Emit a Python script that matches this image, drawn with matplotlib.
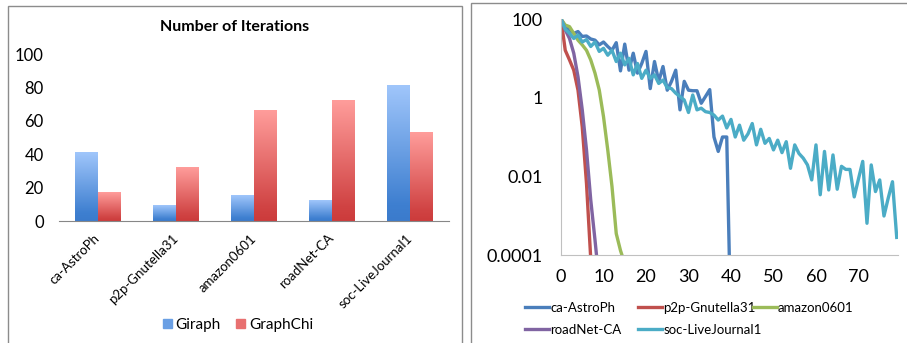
import numpy as np
import matplotlib.pyplot as plt
from matplotlib.colors import LinearSegmentedColormap
from matplotlib.patches import Rectangle, Patch

plt.rcParams['font.family'] = ['Lato', 'DejaVu Sans']

# left chart: number of iterations per dataset
datasets = ['ca-AstroPh', 'p2p-Gnutella31', 'amazon0601', 'roadNet-CA', 'soc-LiveJournal1']
giraph = [41, 9, 15, 12, 81]
graphchi = [17, 32, 66, 72, 53]

# right chart: per-iteration values (log scale), one list per dataset
ca_astroph = [100, 64, 53, 43, 48, 36, 37, 31, 29, 22,
              26, 20, 16, 25, 4.8, 23, 5.0, 13.5, 4.2, 7.4,
              15, 1.7, 8.3, 2.6, 6.2, 1.55, 2.6, 5.0, 0.49, 2.6,
              1.55, 1.5, 1.5, 0.72, 1.07, 1.6, 0.10, 0.043, 0.10, 0.10,
              0.000001]
p2p_gnutella31 = [100, 16, 9.1, 5.0, 1.55, 0.18, 0.0066, 0.00008]
amazon0601 = [100, 70, 64, 43, 29, 22, 16, 9.1, 4.2, 1.57,
              0.33, 0.047, 0.0055, 0.00035, 0.00013, 0.00006]
roadnet_ca = [100, 53, 32, 13.5, 3.4, 0.49, 0.047, 0.0025, 0.00024, 0.00002]
soc_livejournal1 = [100, 55, 43, 32, 39, 26, 30, 20, 26, 15,
                    18, 12, 16, 8.3, 13.5, 6.8, 10, 3.8, 7.4, 3.1,
                    5.0, 3.1, 3.8, 2.3, 2.8, 1.8, 1.7, 1.3, 1.07, 0.87,
                    0.42, 1.17, 0.49, 0.54, 0.44, 0.42, 0.36, 0.27, 0.34, 0.17,
                    0.28, 0.10, 0.20, 0.083, 0.12, 0.22, 0.063, 0.157, 0.069, 0.092,
                    0.047, 0.083, 0.040, 0.076, 0.016, 0.063, 0.038, 0.029, 0.0195, 0.0081,
                    0.063, 0.0034, 0.043, 0.0045, 0.035, 0.0047, 0.018, 0.015, 0.015, 0.0030,
                    0.0086, 0.024, 0.00064, 0.0195, 0.0041, 0.0081, 0.00098, 0.0028, 0.0073, 0.00028]

W, H = 907, 343


def px(x0, y0, x1, y1):
    # pixel box (top-left origin) -> figure rect
    return [x0 / W, 1 - y1 / H, (x1 - x0) / W, (y1 - y0) / H]


fig = plt.figure(figsize=(W / 100, H / 100), dpi=100)

# panel frames
for x0, y0, x1 in [(8, 6, 462), (471, 3, 930)]:
    fig.add_artist(Rectangle((x0 / W, -0.1), (x1 - x0) / W, 1 - y0 / H + 0.1,
                             transform=fig.transFigure, fill=False,
                             ec='#8c8c8c', lw=1))

# ---- left: bar chart ----
ax1 = fig.add_axes(px(59, 54.3, 449, 221))
x = np.arange(len(datasets))
w = 0.29
bars_g = ax1.bar(x - w / 2, giraph, w, color='none')
bars_c = ax1.bar(x + w / 2, graphchi, w, color='none')

grad = np.linspace(0, 1, 256).reshape(-1, 1)
cm_blue = LinearSegmentedColormap.from_list(
    'blue', [(0, '#3b7bcc'), (0.12, '#3e7fd0'), (1, '#a0c6fb')])
cm_red = LinearSegmentedColormap.from_list(
    'red', [(0, '#cc3b3b'), (0.12, '#d04343'), (1, '#ff9d9b')])
for bars, cm in [(bars_g, cm_blue), (bars_c, cm_red)]:
    for b in bars:
        ax1.imshow(grad, cmap=cm, origin='lower', aspect='auto', zorder=2,
                   extent=[b.get_x(), b.get_x() + b.get_width(), 0, b.get_height()])

ax1.set_xlim(-0.5, len(datasets) - 0.5)
ax1.set_ylim(0, 100)
ax1.set_yticks(range(0, 101, 20))
ax1.set_xticks(x)
ax1.set_xticklabels(datasets, rotation=45, ha='right', va='center',
                    rotation_mode='anchor', fontsize=9.5)
ax1.tick_params(axis='y', length=0, pad=11, labelsize=12)
ax1.tick_params(axis='x', length=0, pad=11)
for s in ['top', 'right', 'left']:
    ax1.spines[s].set_visible(False)
ax1.spines['bottom'].set_color('#878787')

fig.text(235 / W, 1 - 27 / H, 'Number of Iterations', ha='center', va='center',
         fontsize=11.5, weight='bold')
fig.legend(handles=[Patch(color='#6a9fe4'), Patch(color='#e87070')],
           labels=['Giraph', 'GraphChi'], loc='center',
           bbox_to_anchor=(238 / W, 1 - 325 / H), ncol=2, frameon=False,
           fontsize=11, handlelength=0.6, handleheight=0.6,
           handletextpad=0.25, columnspacing=1.0)

# ---- right: log-scale line chart ----
ax2 = fig.add_axes(px(561, 19, 898, 255))
names = ['ca-AstroPh', 'p2p-Gnutella31', 'amazon0601', 'roadNet-CA', 'soc-LiveJournal1']
series = [ca_astroph, p2p_gnutella31, amazon0601, roadnet_ca, soc_livejournal1]
colors = ['#4a7ebb', '#c0504d', '#9bbb59', '#8064a2', '#4bacc6']
lines = []
for name, vals, col in zip(names, series, colors):
    ln, = ax2.plot(np.arange(len(vals)), vals, color=col, lw=2.4, label=name)
    lines.append(ln)

ax2.set_yscale('log')
ax2.set_ylim(1e-4, 100)
ax2.set_xlim(0, 79.3)
ax2.set_yticks([1e-4, 1e-2, 1, 100])
ax2.set_yticklabels(['0.0001', '0.01', '1', '100'])
ax2.minorticks_off()
ax2.set_xticks(range(0, 80, 10))
ax2.tick_params(axis='y', length=0, pad=13, labelsize=13)
ax2.tick_params(axis='x', length=0, pad=10, labelsize=13)
for s in ['top', 'right']:
    ax2.spines[s].set_visible(False)
for s in ['left', 'bottom']:
    ax2.spines[s].set_color('#c0c0c0')

# legend laid out as a 3-column grid like the original
for cx, idx in zip([525, 638, 753], [[0, 3], [1, 4], [2]]):
    fig.legend([lines[i] for i in idx], [names[i] for i in idx], loc='upper left',
               bbox_to_anchor=(cx / W, 1 - 302 / H), frameon=False, fontsize=9.5,
               handlelength=1.8, handletextpad=0.1, labelspacing=0.75,
               borderpad=0, borderaxespad=0)

fig.savefig('out.png', dpi=100)
